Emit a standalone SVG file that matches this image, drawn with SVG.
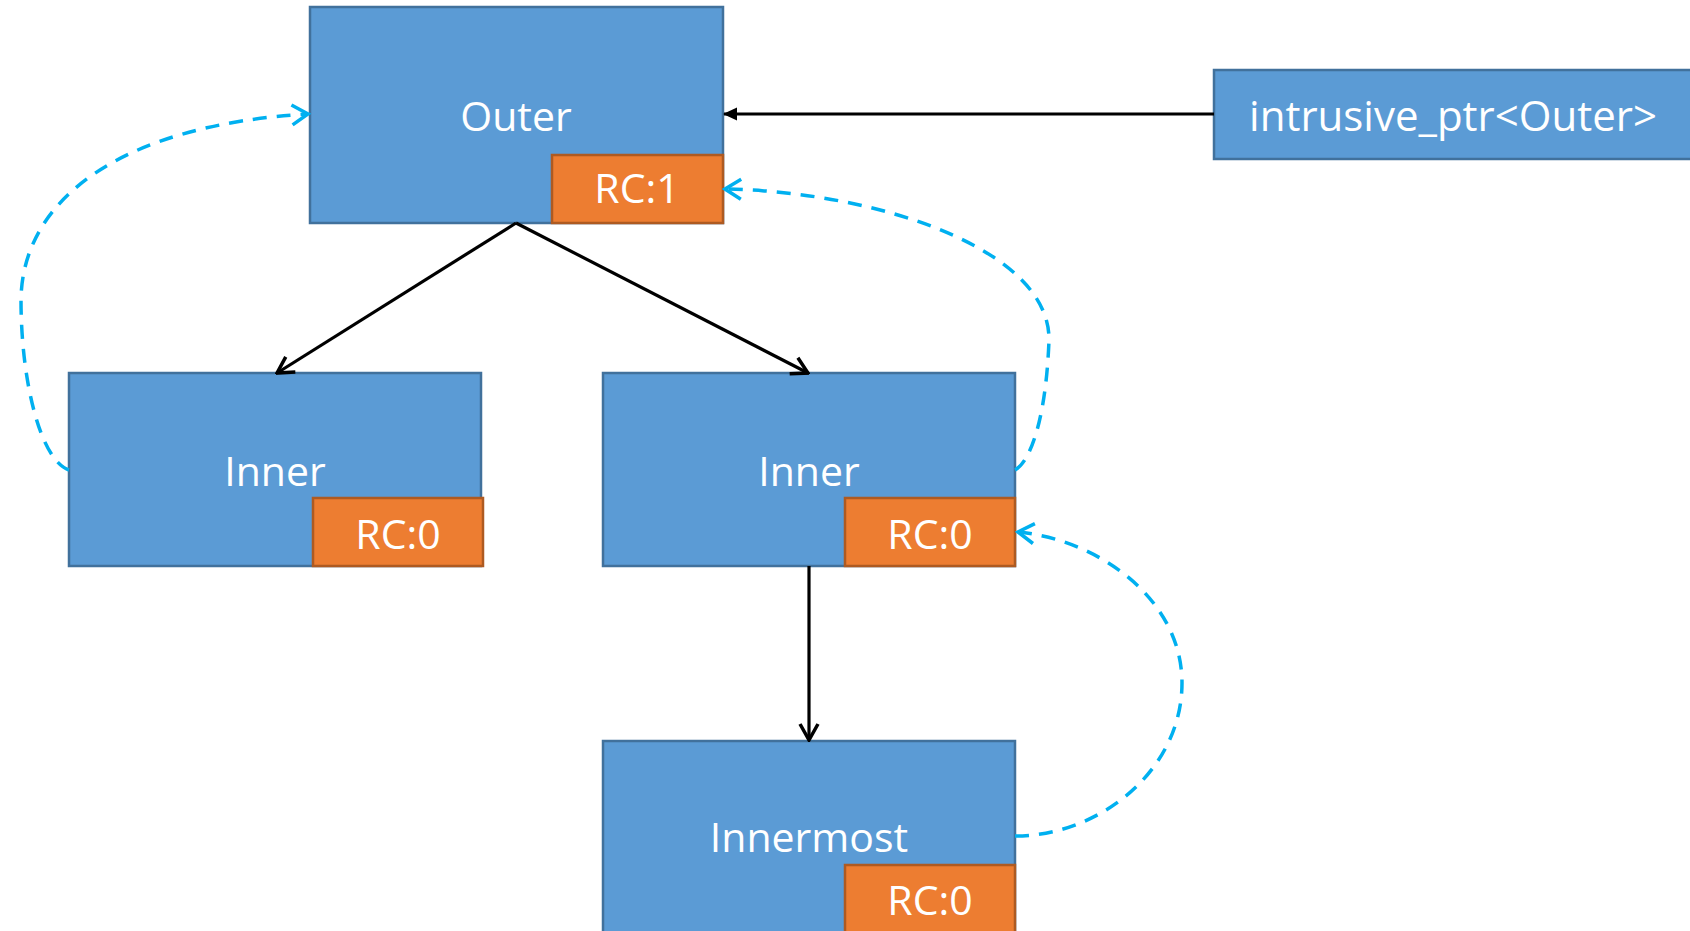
<svg xmlns="http://www.w3.org/2000/svg" width="1690" height="931" viewBox="0 0 1690 931">
<defs>
<style>
.box{fill:#5B9BD5;stroke:#41719C;stroke-width:2.5}
.rc{fill:#ED7D31;stroke:#AE5A21;stroke-width:2.5}
.t{fill:#FFFFFF;font-family:"Open Sans","Noto Sans",sans-serif;font-size:41px;text-anchor:middle}
.solid{fill:none;stroke:#000000;stroke-width:3.2}
.dash{fill:none;stroke:#00B0F0;stroke-width:3.5;stroke-dasharray:14 10}
</style>
<marker id="openBlack" viewBox="0 0 22 24" refX="20" refY="12" markerWidth="22" markerHeight="24" markerUnits="userSpaceOnUse" orient="auto">
<path d="M4,3 L20,12 L4,21" fill="none" stroke="#000000" stroke-width="3.5"/>
</marker>
<marker id="filledBlack" viewBox="0 0 14 14" refX="13" refY="7" markerWidth="14" markerHeight="14" markerUnits="userSpaceOnUse" orient="auto">
<path d="M0,0.5 L14,7 L0,13.5 Z" fill="#000000"/>
</marker>
<marker id="openBlue" viewBox="0 0 22 26" refX="19" refY="13" markerWidth="22" markerHeight="26" markerUnits="userSpaceOnUse" orient="auto">
<path d="M3,3 L19,13 L3,23" fill="none" stroke="#00B0F0" stroke-width="3.5"/>
</marker>
</defs>
<rect width="1690" height="931" fill="#FFFFFF"/>
<g id="outer">
<rect class="box" x="310" y="7" width="413" height="216"/>
<text class="t" x="516" y="131">Outer</text>
<rect class="rc" x="552" y="155" width="171" height="68"/>
<text class="t" x="637" y="203">RC:1</text>
</g>
<g id="intrusive_ptr">
<rect class="box" x="1214" y="70" width="480" height="89"/>
<text class="t" x="1453" y="131" style="font-size:42px">intrusive_ptr&lt;Outer&gt;</text>
</g>
<g id="inner-left">
<rect class="box" x="69" y="373" width="412" height="193"/>
<text class="t" x="275" y="486">Inner</text>
<rect class="rc" x="313" y="498" width="170" height="68"/>
<text class="t" x="398" y="549">RC:0</text>
</g>
<g id="inner-right">
<rect class="box" x="603" y="373" width="412" height="193"/>
<text class="t" x="809" y="486">Inner</text>
<rect class="rc" x="845" y="498" width="170" height="68"/>
<text class="t" x="930" y="549">RC:0</text>
</g>
<g id="innermost">
<rect class="box" x="603" y="741" width="412" height="200"/>
<text class="t" x="809" y="852">Innermost</text>
<rect class="rc" x="845" y="865" width="170" height="76"/>
<text class="t" x="930" y="915">RC:0</text>
</g>
<g id="connectors">
<line class="solid" x1="1214" y1="114" x2="724" y2="114" marker-end="url(#filledBlack)"/>
<line class="solid" x1="516" y1="223" x2="277" y2="373" marker-end="url(#openBlack)"/>
<line class="solid" x1="516" y1="223" x2="808" y2="373" marker-end="url(#openBlack)"/>
<line class="solid" x1="809" y1="566" x2="809" y2="740" marker-end="url(#openBlack)"/>
<path class="dash" d="M69,470 C40,460 21,380 21,300 C22,200 120,125 308,114" marker-end="url(#openBlue)"/>
<path class="dash" d="M1015,470 C1030,462 1046,420 1049,340 C1050,250 880,192 725,189" marker-end="url(#openBlue)"/>
<path class="dash" d="M1015,836 C1100,836 1182,770 1182,683 C1182,600 1100,540 1018,532" marker-end="url(#openBlue)"/>
</g>
</svg>
